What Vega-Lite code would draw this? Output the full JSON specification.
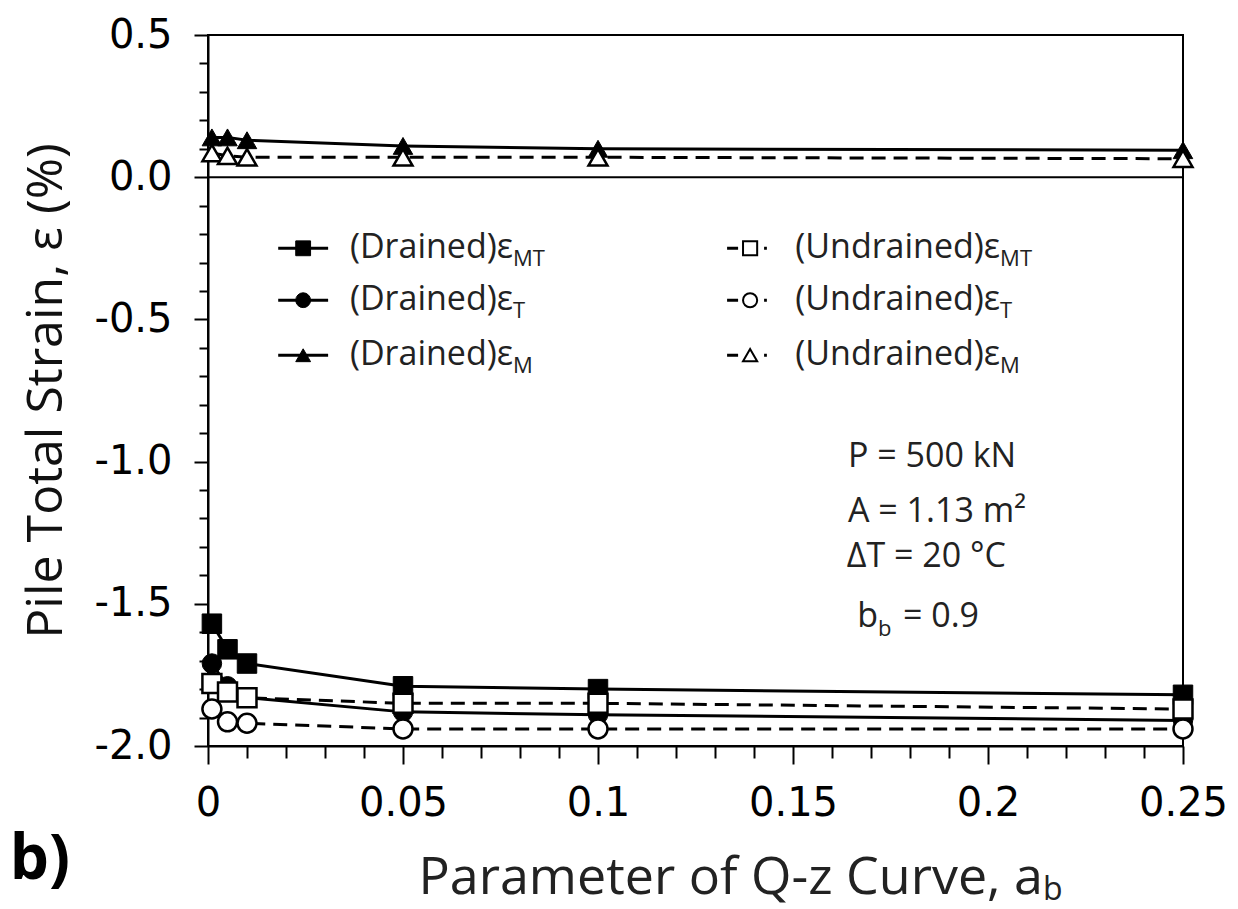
{
  "$schema": "https://vega.github.io/schema/vega-lite/v6.json",
  "autosize": {"type": "none"},
  "width": 975,
  "height": 711,
  "padding": {"left": 208, "top": 35, "right": 55, "bottom": 163},
  "background": "white",
  "config": {
    "view": {"stroke": "black", "strokeWidth": 2},
    "axis": {
      "domainColor": "black",
      "domainWidth": 2,
      "tickColor": "black",
      "tickWidth": 2,
      "grid": false,
      "labelFont": "DejaVu Sans",
      "labelColor": "black",
      "labelOverlap": false,
      "titleFont": "Open Sans",
      "titleFontWeight": "normal",
      "titleColor": "#111"
    }
  },
  "datasets": {
    "series": [
      {"drainage": "Drained", "comp": "MT", "x": 0.001, "y": -1.57},
      {"drainage": "Drained", "comp": "MT", "x": 0.005, "y": -1.66},
      {"drainage": "Drained", "comp": "MT", "x": 0.01, "y": -1.71},
      {"drainage": "Drained", "comp": "MT", "x": 0.05, "y": -1.79},
      {"drainage": "Drained", "comp": "MT", "x": 0.1, "y": -1.80},
      {"drainage": "Drained", "comp": "MT", "x": 0.25, "y": -1.82},
      {"drainage": "Drained", "comp": "T", "x": 0.001, "y": -1.71},
      {"drainage": "Drained", "comp": "T", "x": 0.005, "y": -1.79},
      {"drainage": "Drained", "comp": "T", "x": 0.01, "y": -1.83},
      {"drainage": "Drained", "comp": "T", "x": 0.05, "y": -1.88},
      {"drainage": "Drained", "comp": "T", "x": 0.1, "y": -1.89},
      {"drainage": "Drained", "comp": "T", "x": 0.25, "y": -1.91},
      {"drainage": "Drained", "comp": "M", "x": 0.001, "y": 0.14},
      {"drainage": "Drained", "comp": "M", "x": 0.005, "y": 0.14},
      {"drainage": "Drained", "comp": "M", "x": 0.01, "y": 0.13},
      {"drainage": "Drained", "comp": "M", "x": 0.05, "y": 0.11},
      {"drainage": "Drained", "comp": "M", "x": 0.1, "y": 0.10},
      {"drainage": "Drained", "comp": "M", "x": 0.25, "y": 0.095},
      {"drainage": "Undrained", "comp": "MT", "x": 0.001, "y": -1.78},
      {"drainage": "Undrained", "comp": "MT", "x": 0.005, "y": -1.81},
      {"drainage": "Undrained", "comp": "MT", "x": 0.01, "y": -1.83},
      {"drainage": "Undrained", "comp": "MT", "x": 0.05, "y": -1.85},
      {"drainage": "Undrained", "comp": "MT", "x": 0.1, "y": -1.85},
      {"drainage": "Undrained", "comp": "MT", "x": 0.25, "y": -1.87},
      {"drainage": "Undrained", "comp": "T", "x": 0.001, "y": -1.87},
      {"drainage": "Undrained", "comp": "T", "x": 0.005, "y": -1.915},
      {"drainage": "Undrained", "comp": "T", "x": 0.01, "y": -1.92},
      {"drainage": "Undrained", "comp": "T", "x": 0.05, "y": -1.94},
      {"drainage": "Undrained", "comp": "T", "x": 0.1, "y": -1.94},
      {"drainage": "Undrained", "comp": "T", "x": 0.25, "y": -1.94},
      {"drainage": "Undrained", "comp": "M", "x": 0.001, "y": 0.085},
      {"drainage": "Undrained", "comp": "M", "x": 0.005, "y": 0.075},
      {"drainage": "Undrained", "comp": "M", "x": 0.01, "y": 0.07},
      {"drainage": "Undrained", "comp": "M", "x": 0.05, "y": 0.07},
      {"drainage": "Undrained", "comp": "M", "x": 0.1, "y": 0.07},
      {"drainage": "Undrained", "comp": "M", "x": 0.25, "y": 0.065}
    ],
    "key": [
      {"drainage": "Drained", "comp": "MT", "y": -0.25, "x1": 0.018, "x2": 0.0308, "mx": 0.0244, "tx": 0.0782, "label": "(Drained)ε", "sub": "MT"},
      {"drainage": "Drained", "comp": "T", "y": -0.4325, "x1": 0.018, "x2": 0.0308, "mx": 0.0244, "tx": 0.0782, "label": "(Drained)ε", "sub": "T"},
      {"drainage": "Drained", "comp": "M", "y": -0.626, "x1": 0.018, "x2": 0.0308, "mx": 0.0244, "tx": 0.0782, "label": "(Drained)ε", "sub": "M"},
      {"drainage": "Undrained", "comp": "MT", "y": -0.25, "x1": 0.1331, "x2": 0.1433, "mx": 0.139, "tx": 0.2031, "label": "(Undrained)ε", "sub": "MT"},
      {"drainage": "Undrained", "comp": "T", "y": -0.4325, "x1": 0.1331, "x2": 0.1433, "mx": 0.139, "tx": 0.2031, "label": "(Undrained)ε", "sub": "T"},
      {"drainage": "Undrained", "comp": "M", "y": -0.626, "x1": 0.1331, "x2": 0.1433, "mx": 0.139, "tx": 0.2031, "label": "(Undrained)ε", "sub": "M"}
    ],
    "notes": [
      {"x": 0.1641, "y": -0.985, "text": "P = 500 kN"},
      {"x": 0.1641, "y": -1.178, "text": "A = 1.13 m²"},
      {"x": 0.1638, "y": -1.336, "text": "ΔT = 20 °C"},
      {"x": 0.1782, "y": -1.547, "text": "= 0.9"}
    ],
    "mainText": [
      {"x": 0.1718, "y": -1.547, "text": "b", "size": "note"},
      {"x": 0.2141, "y": -2.465, "text": "Parameter of Q-z Curve, a", "size": "title"}
    ],
    "subText": [
      {"x": 0.1718, "y": -1.547, "text": "b", "size": "note"},
      {"x": 0.2141, "y": -2.465, "text": "b", "size": "title"}
    ],
    "panel": [{"x": -0.0431, "y": -2.40, "text": "b)"}]
  },
  "layer": [
    {
      "data": {"values": [{"y": 0}]},
      "mark": {"type": "rule", "color": "black", "strokeWidth": 2},
      "encoding": {
        "y": {
          "field": "y",
          "type": "quantitative",
          "scale": {"domain": [-2, 0.5], "nice": false, "zero": false},
          "axis": {
            "values": [-2, -1.9, -1.8, -1.7, -1.6, -1.5, -1.4, -1.3, -1.2, -1.1, -1, -0.9, -0.8, -0.7, -0.6, -0.5, -0.4, -0.3, -0.2, -0.1, 0, 0.1, 0.2, 0.3, 0.4, 0.5],
            "tickCount": 100,
            "labelExpr": "abs(datum.value*2 - round(datum.value*2)) < 1e-6 ? replace(format(datum.value, '.1f'), '−', '-') : ''",
            "labelFontSize": {"condition": {"test": "abs(datum.value*2 - round(datum.value*2)) < 1e-6", "value": 40}, "value": 0},
            "labelPadding": 22,
            "labelOverlap": false,
            "labelBound": false,
            "labelFlush": false,
            "tickSize": {"condition": {"test": "abs(datum.value*2 - round(datum.value*2)) < 1e-6", "value": 14}, "value": 9},
            "title": "Pile Total Strain, ε (%)",
            "titleFontSize": 50,
            "titlePadding": 22
          }
        }
      }
    },
    {
      "data": {"name": "series"},
      "transform": [{"filter": "datum.drainage === 'Drained'"}],
      "mark": {"type": "line", "color": "black", "strokeWidth": 3},
      "encoding": {
        "x": {
          "field": "x",
          "type": "quantitative",
          "scale": {"domain": [0, 0.25], "nice": false, "zero": false},
          "axis": {
            "values": [0, 0.01, 0.02, 0.03, 0.04, 0.05, 0.06, 0.07, 0.08, 0.09, 0.1, 0.11, 0.12, 0.13, 0.14, 0.15, 0.16, 0.17, 0.18, 0.19, 0.2, 0.21, 0.22, 0.23, 0.24, 0.25],
            "tickCount": 100,
            "labelExpr": "abs(datum.value*20 - round(datum.value*20)) < 1e-6 ? format(datum.value, '~g') : ''",
            "labelFontSize": {"condition": {"test": "abs(datum.value*20 - round(datum.value*20)) < 1e-6", "value": 40}, "value": 0},
            "labelPadding": {"condition": {"test": "abs(datum.value*20 - round(datum.value*20)) < 1e-6", "value": 19}, "value": 3000},
            "labelOverlap": false,
            "labelBound": false,
            "labelFlush": false,
            "tickSize": {"condition": {"test": "abs(datum.value*20 - round(datum.value*20)) < 1e-6", "value": 18}, "value": 12},
            "title": null
          }
        },
        "y": {"field": "y", "type": "quantitative"},
        "detail": {"field": "comp"}
      }
    },
    {
      "data": {"name": "series"},
      "transform": [{"filter": "datum.drainage === 'Drained'"}],
      "mark": {"type": "point", "filled": true, "fill": "black", "stroke": "black", "strokeWidth": 1, "size": 380, "opacity": 1},
      "encoding": {
        "x": {"field": "x", "type": "quantitative"},
        "y": {"field": "y", "type": "quantitative"},
        "shape": {"field": "comp", "type": "nominal", "scale": {"domain": ["MT", "T", "M"], "range": ["square", "circle", "triangle-up"]}, "legend": null}
      }
    },
    {
      "data": {"name": "series"},
      "transform": [{"filter": "datum.drainage === 'Undrained'"}],
      "mark": {"type": "line", "color": "black", "strokeWidth": 3, "strokeDash": [14, 8]},
      "encoding": {
        "x": {"field": "x", "type": "quantitative"},
        "y": {"field": "y", "type": "quantitative"},
        "detail": {"field": "comp"}
      }
    },
    {
      "data": {"name": "series"},
      "transform": [{"filter": "datum.drainage === 'Undrained'"}],
      "mark": {"type": "point", "filled": true, "fill": "white", "stroke": "black", "strokeWidth": 2.5, "size": 360, "opacity": 1},
      "encoding": {
        "x": {"field": "x", "type": "quantitative"},
        "y": {"field": "y", "type": "quantitative"},
        "shape": {"field": "comp", "type": "nominal", "legend": null}
      }
    },
    {
      "data": {"name": "key"},
      "transform": [{"filter": "datum.drainage === 'Drained'"}],
      "mark": {"type": "rule", "color": "black", "strokeWidth": 3},
      "encoding": {
        "x": {"field": "x1", "type": "quantitative"},
        "x2": {"field": "x2"},
        "y": {"field": "y", "type": "quantitative"}
      }
    },
    {
      "data": {"name": "key"},
      "transform": [{"filter": "datum.drainage === 'Undrained'"}],
      "mark": {"type": "rule", "color": "black", "strokeWidth": 3, "strokeDash": [11, 26, 3, 100]},
      "encoding": {
        "x": {"field": "x1", "type": "quantitative"},
        "x2": {"field": "x2"},
        "y": {"field": "y", "type": "quantitative"}
      }
    },
    {
      "data": {"name": "key"},
      "transform": [{"filter": "datum.drainage === 'Drained'"}],
      "mark": {"type": "point", "filled": true, "fill": "black", "stroke": "black", "strokeWidth": 1, "size": 220, "opacity": 1},
      "encoding": {
        "x": {"field": "mx", "type": "quantitative"},
        "y": {"field": "y", "type": "quantitative"},
        "shape": {"field": "comp", "type": "nominal", "legend": null}
      }
    },
    {
      "data": {"name": "key"},
      "transform": [{"filter": "datum.drainage === 'Undrained'"}],
      "mark": {"type": "point", "filled": true, "fill": "white", "stroke": "black", "strokeWidth": 2, "size": 200, "opacity": 1},
      "encoding": {
        "x": {"field": "mx", "type": "quantitative"},
        "y": {"field": "y", "type": "quantitative"},
        "shape": {"field": "comp", "type": "nominal", "legend": null}
      }
    },
    {
      "data": {"name": "key"},
      "mark": {"type": "text", "font": "Open Sans", "fontSize": 34, "align": "right", "baseline": "middle", "color": "#222"},
      "encoding": {
        "x": {"field": "tx", "type": "quantitative"},
        "y": {"field": "y", "type": "quantitative"},
        "text": {"field": "label"}
      }
    },
    {
      "data": {"name": "key"},
      "mark": {"type": "text", "font": "Open Sans", "fontSize": 22, "align": "left", "baseline": "middle", "dy": 11, "color": "#222"},
      "encoding": {
        "x": {"field": "tx", "type": "quantitative"},
        "y": {"field": "y", "type": "quantitative"},
        "text": {"field": "sub"}
      }
    },
    {
      "data": {"name": "notes"},
      "mark": {"type": "text", "font": "Open Sans", "fontSize": 34, "align": "left", "baseline": "middle", "color": "#222"},
      "encoding": {
        "x": {"field": "x", "type": "quantitative"},
        "y": {"field": "y", "type": "quantitative"},
        "text": {"field": "text"}
      }
    },
    {
      "data": {"name": "mainText"},
      "mark": {"type": "text", "font": "Open Sans", "align": "right", "baseline": "middle", "color": "#222"},
      "encoding": {
        "x": {"field": "x", "type": "quantitative"},
        "y": {"field": "y", "type": "quantitative"},
        "text": {"field": "text"},
        "size": {"field": "size", "type": "nominal", "scale": {"domain": ["note", "title"], "range": [34, 52]}, "legend": null}
      }
    },
    {
      "data": {"name": "subText"},
      "mark": {"type": "text", "font": "Open Sans", "align": "left", "baseline": "middle", "dy": 12, "color": "#222"},
      "encoding": {
        "x": {"field": "x", "type": "quantitative"},
        "y": {"field": "y", "type": "quantitative"},
        "text": {"field": "text"},
        "size": {"field": "size", "type": "nominal", "scale": {"domain": ["note", "title"], "range": [22, 32]}, "legend": null}
      }
    },
    {
      "data": {"name": "panel"},
      "mark": {"type": "text", "font": "Open Sans", "fontSize": 62, "fontWeight": "bold", "align": "center", "baseline": "middle", "color": "black"},
      "encoding": {
        "x": {"field": "x", "type": "quantitative"},
        "y": {"field": "y", "type": "quantitative"},
        "text": {"field": "text"}
      }
    }
  ],
  "resolve": {"scale": {"size": "independent"}}
}
